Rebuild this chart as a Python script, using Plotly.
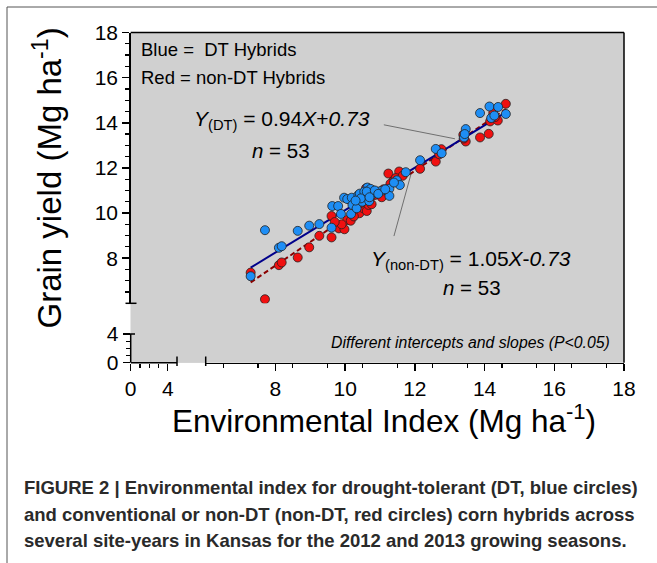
import numpy as np
import plotly.graph_objects as go

W, H = 657, 563

# ---------------- data ----------------
dt_x = [7.29, 7.70, 8.10, 8.18, 8.64, 8.97, 9.26, 9.61, 9.63, 9.80,
        9.88, 9.97, 10.06, 10.19, 10.21, 10.17, 10.33, 10.38, 10.42, 10.49,
        10.58, 10.64, 10.73, 10.78, 10.69, 10.55, 10.89, 11.05, 11.27, 11.27,
        11.48, 11.57, 11.74, 12.15, 12.60, 12.77, 13.41, 13.46, 13.87, 14.14,
        14.39, 14.19, 14.28, 14.61, 10.45, 10.62, 10.85, 10.95, 11.15, 10.30,
        11.40, 10.70, 13.43]
dt_y = [7.20, 9.24, 8.46, 8.53, 9.21, 9.44, 9.51, 9.35, 10.31, 10.31,
        9.96, 10.68, 10.62, 10.68, 10.36, 9.96, 10.21, 10.80, 10.86, 10.50,
        10.80, 11.13, 11.07, 10.83, 10.53, 10.95, 10.90, 10.99, 11.08, 10.76,
        11.45, 11.24, 11.81, 12.34, 12.84, 12.65, 13.35, 13.72, 14.43, 14.72,
        14.70, 14.21, 14.32, 14.39, 10.65, 10.95, 11.00, 10.85, 11.05, 10.55,
        11.35, 10.70, 13.50]

ndt_x = [7.29, 7.70, 8.10, 8.18, 8.64, 8.97, 9.26, 9.61, 9.61, 9.82,
         9.98, 10.06, 10.16, 10.14, 10.38, 10.41, 10.52, 10.62, 10.67, 10.76,
         10.60, 11.24, 11.55, 11.38, 12.15, 12.60, 12.76, 13.39, 13.46, 13.87,
         14.12, 14.16, 14.38, 14.61, 14.25, 9.90, 10.25, 10.45, 10.55, 10.70,
         10.85, 10.95, 11.05, 11.10, 11.30, 11.45, 11.65, 10.30, 9.70, 12.70,
         13.40, 14.30, 10.80]
ndt_y = [7.36, 6.18, 7.69, 7.81, 8.03, 8.48, 8.99, 8.92, 9.87, 9.32,
         9.28, 9.69, 9.66, 10.58, 10.21, 9.99, 10.21, 10.09, 10.36, 10.39,
         11.10, 11.75, 11.84, 11.42, 11.96, 12.28, 12.83, 13.47, 13.17, 13.35,
         13.51, 14.06, 14.10, 14.84, 14.43, 9.50, 9.85, 10.45, 10.55, 10.65,
         10.80, 10.95, 10.70, 11.05, 11.30, 11.55, 11.65, 10.30, 9.60, 12.60,
         13.30, 14.25, 11.00]

dt_slope, dt_int = 0.94, 0.73
ndt_slope, ndt_int = 1.05, -0.73

x_major = [8, 10, 12, 14, 16, 18]
y_major = [8, 10, 12, 14, 16, 18]
low_major = [0, 4]
low_minor = [1, 2, 3]

# ---------------- helpers for page geometry ----------------
def fx(p):
    return p / W

def fy(p):
    return 1 - p / H

FONT = "Liberation Sans, Arial, Helvetica, sans-serif"
GRAY = "#D0D0D0"
L, R = 130.7, 624.0          # plot left / right (px)
T, B = 32.5, 362.7           # plot top / bottom (px)
XB1, XB2 = 177.0, 205.7      # x-axis break (end of 0-5 segment, start of 6-18 segment)
YB1, YB2 = 334.0, 303.3      # y-axis break (end of 0-4 segment, start of 6-18 segment)

x_low_end, y_low_end = 5.0, 4.0
x_low_max = x_low_end * (XB2 - L) / (XB1 - L)
y_low_max = y_low_end * (B - YB2) / (B - YB1)

fig = go.Figure()

xs = np.array([min(dt_x), max(dt_x)])
fig.add_trace(go.Scatter(x=xs, y=ndt_slope * xs + ndt_int, mode="lines",
                         line=dict(color="#8B0000", width=2, dash="5px,3px"),
                         xaxis="x2", yaxis="y2", showlegend=False, hoverinfo="skip"))
fig.add_trace(go.Scatter(x=xs, y=dt_slope * xs + dt_int, mode="lines",
                         line=dict(color="#00008B", width=2),
                         xaxis="x2", yaxis="y2", showlegend=False, hoverinfo="skip"))
fig.add_trace(go.Scatter(x=ndt_x, y=ndt_y, mode="markers",
                         marker=dict(size=9, color="#F01010", line=dict(color="#222", width=0.8)),
                         xaxis="x2", yaxis="y2", showlegend=False))
fig.add_trace(go.Scatter(x=dt_x, y=dt_y, mode="markers",
                         marker=dict(size=9, color="#1E8EF5", line=dict(color="#222", width=0.8)),
                         xaxis="x2", yaxis="y2", showlegend=False))
fig.add_trace(go.Scatter(x=[None], y=[None], xaxis="x", yaxis="y", showlegend=False))

axis_common = dict(showline=True, linecolor="black", linewidth=1.5, ticks="outside",
                   ticklen=7, tickwidth=1.5, tickcolor="black", showgrid=False,
                   zeroline=False, tickfont=dict(family=FONT, size=21, color="black"),
                   fixedrange=True)

fig.update_layout(
    width=W, height=H, margin=dict(l=0, r=0, t=0, b=0, pad=0, autoexpand=False),
    paper_bgcolor="white", plot_bgcolor=GRAY,
    xaxis=dict(axis_common, showline=False, domain=[fx(L), fx(XB2)], range=[0, x_low_max],
               anchor="y", tickmode="array", tickvals=low_major,
               minor=dict(tickmode="array", tickvals=low_minor, ticks="outside",
                          ticklen=4, tickwidth=1.2, tickcolor="black")),
    xaxis2=dict(axis_common, domain=[fx(XB2), fx(R)], range=[6, 18], anchor="y",
                tickmode="array", tickvals=x_major,
                minor=dict(tickmode="array", tickvals=list(np.arange(6.5, 18, 1.0)),
                           ticks="outside", ticklen=4, tickwidth=1.2, tickcolor="black")),
    yaxis=dict(axis_common, showline=False, domain=[fy(B), fy(YB2)], range=[0, y_low_max],
               anchor="x", tickmode="array", tickvals=low_major,
               minor=dict(tickmode="array", tickvals=low_minor, ticks="outside",
                          ticklen=4, tickwidth=1.2, tickcolor="black")),
    yaxis2=dict(axis_common, domain=[fy(YB2), fy(T)], range=[6, 18], anchor="x",
                tickmode="array", tickvals=y_major,
                minor=dict(tickmode="array", tickvals=list(np.arange(6.5, 18, 0.5)),
                           ticks="outside", ticklen=4, tickwidth=1.2, tickcolor="black")),
)

shapes = [
    dict(type="rect", xref="paper", yref="paper", x0=fx(L), x1=fx(R), y0=fy(B), y1=fy(T),
         fillcolor=GRAY, line=dict(width=0), layer="below"),
    dict(type="line", xref="paper", yref="paper", x0=fx(L), x1=fx(R), y0=fy(T), y1=fy(T),
         line=dict(color="black", width=1.5)),
    dict(type="line", xref="paper", yref="paper", x0=fx(R), x1=fx(R), y0=fy(T), y1=fy(B),
         line=dict(color="black", width=1.5)),
    dict(type="line", xref="x", yref="paper", x0=0, x1=x_low_end, y0=fy(B), y1=fy(B),
         line=dict(color="black", width=1.5)),
    dict(type="line", xref="paper", yref="y", x0=fx(L), x1=fx(L), y0=0, y1=y_low_end,
         line=dict(color="black", width=1.5)),
    dict(type="rect", xref="paper", yref="paper", x0=fx(7), x1=1.05, y0=fy(7), y1=-0.05,
         line=dict(color="#555", width=1), fillcolor="rgba(0,0,0,0)"),
    dict(type="line", xref="paper", yref="paper", x0=fx(125.5), x1=fx(136.5), y0=fy(YB2), y1=fy(YB2),
         line=dict(color="black", width=1.5)),
    dict(type="line", xref="paper", yref="paper", x0=fx(125.5), x1=fx(135), y0=fy(YB1), y1=fy(YB1),
         line=dict(color="black", width=1.5)),
    dict(type="line", xref="paper", yref="paper", x0=fx(XB1), x1=fx(XB1), y0=fy(356.5), y1=fy(366),
         line=dict(color="black", width=1.5)),
    dict(type="line", xref="paper", yref="paper", x0=fx(XB2), x1=fx(XB2), y0=fy(356.5), y1=fy(366),
         line=dict(color="black", width=1.5)),
    dict(type="line", xref="x2", yref="y2", x0=11.11, y0=13.91, x1=13.15, y1=13.29,
         line=dict(color="#555", width=0.8)),
    dict(type="line", xref="x2", yref="y2", x0=11.40, y0=8.98, x1=11.89, y1=11.73,
         line=dict(color="#555", width=0.8)),
]
fig.update_layout(shapes=shapes)

def ann(text, x, y, size, xanchor="left", yanchor="middle", angle=0, color="black",
        family=FONT):
    fig.add_annotation(text=text, x=fx(x), y=fy(y), xref="paper", yref="paper",
                       xanchor=xanchor, yanchor=yanchor, showarrow=False, textangle=angle,
                       font=dict(family=family, size=size, color=color), align="left")

ann("Blue =&nbsp; DT Hybrids", 139, 49.5, 18.5)
ann("Red = non-DT Hybrids", 139, 77.5, 18.5)
ann("<i>Y</i><sub>(DT)</sub> = 0.94<i>X</i>+<i>0.73</i>", 192, 120, 21)
ann("<i>n</i> = 53", 250, 150, 20.5)
ann("<i>Y</i><sub>(non-DT)</sub> = 1.05<i>X</i>-<i>0.73</i>", 369, 260, 21)
ann("<i>n</i> = 53", 441, 287, 20.5)
ann("<i>Different intercepts and slopes (P&lt;0.05)</i>", 612, 342, 15.8, xanchor="right")

ann("Environmental Index (Mg ha<sup>-1</sup>)", 384, 419, 31.5, xanchor="center")
ann("Grain yield (Mg ha<sup>-1</sup>)", 47, 178.5, 33, xanchor="center", angle=-90)

CAP = "Liberation Sans Narrow, Arial Narrow, Liberation Sans, Arial, sans-serif"
ann("<b>FIGURE 2 | Environmental index for drought-tolerant (DT, blue circles)</b>", 22, 487, 18.5,
    color="#2a2a2a", family=CAP)
ann("<b>and conventional or non-DT (non-DT, red circles) corn hybrids across</b>", 22, 514, 18.5,
    color="#2a2a2a", family=CAP)
ann("<b>several site-years in Kansas for the 2012 and 2013 growing seasons.</b>", 22, 540, 18.5,
    color="#2a2a2a", family=CAP)

# gray patches over the axis-break gaps (top-most layer)
def patch(x0, x1, y0, y1):
    fig.add_annotation(text=" ", x=fx((x0 + x1) / 2), y=fy((y0 + y1) / 2), xref="paper",
                       yref="paper", xanchor="center", yanchor="middle", showarrow=False,
                       width=x1 - x0, height=y1 - y0, bgcolor=GRAY, borderpad=0,
                       borderwidth=0, font=dict(size=4))

patch(L + 1.0, L + 12, YB2 + 1.2, YB1 - 1.2)
patch(XB1 + 1.2, XB2 - 1.2, YB1, B - 1.0)

fig.write_html("out.html", config={"staticPlot": True, "displayModeBar": False},
               post_script="document.body.style.margin='0';document.body.style.padding='0';"
                           "document.body.style.overflow='hidden';")
